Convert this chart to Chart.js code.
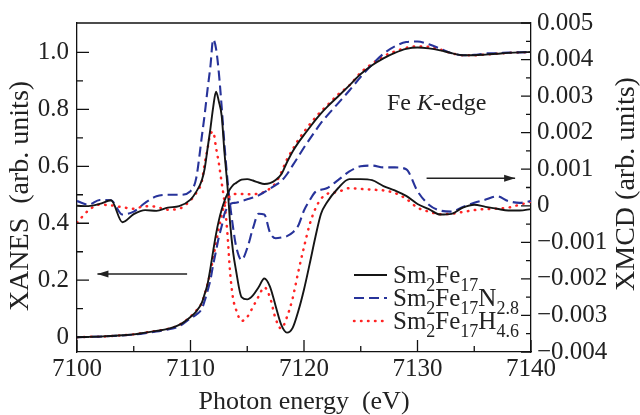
<!DOCTYPE html>
<html><head><meta charset="utf-8">
<script src="https://cdn.jsdelivr.net/npm/chart.js@4.4.1/dist/chart.umd.min.js"></script>
<style>html,body{margin:0;padding:0;background:#fff}canvas{display:block}</style>
</head><body>
<canvas id="c" width="640" height="415"></canvas>
<script>
// ---------- data ----------
const energy = [7100,7101,7102,7103,7104,7105,7106,7107,7108,7109,7110,
  7110.5,7111,
  7111.25,7111.5,7111.75,7112,7112.25,7112.5,7112.75,7113,7113.25,7113.5,7113.75,7114,
  7114.5,7115,7115.5,7116,7116.5,7117,7117.5,7118,7118.5,7119,7119.5,7120,7120.5,7121,7121.5,7122,
  7123,7124,7125,7126,7127,7128,7129,7130,7131,7132,7133,7134,7135,7136,7137,7138,7139,7140];

const xanesSm2Fe17 = [0.000,0.001,0.002,0.004,0.007,0.010,0.016,0.022,0.029,0.043,0.071,
  0.090,0.121,
  0.152,0.186,0.241,0.303,0.362,0.410,0.448,0.479,0.503,0.521,0.534,0.541,
  0.553,0.555,0.550,0.543,0.538,0.541,0.552,0.572,0.614,0.652,0.683,0.710,0.736,0.762,0.786,0.807,
  0.845,0.884,0.924,0.955,0.979,0.998,1.012,1.017,1.014,1.007,0.997,0.990,0.990,0.992,0.995,0.998,1.000,1.001];

const xanesSm2Fe17N = [0.000,0.001,0.002,0.004,0.006,0.009,0.014,0.020,0.027,0.038,0.066,
  0.079,0.100,
  0.128,0.162,0.200,0.255,0.303,0.352,0.390,0.434,0.455,0.467,0.471,0.472,
  0.478,0.484,0.490,0.498,0.509,0.521,0.534,0.548,0.572,0.603,0.634,0.666,0.695,0.724,0.752,0.776,
  0.821,0.866,0.914,0.957,0.995,1.021,1.036,1.038,1.028,1.013,0.997,0.990,0.991,0.996,0.997,0.999,1.000,1.001];

const xanesSm2Fe17H = [0.000,0.001,0.002,0.004,0.007,0.010,0.016,0.022,0.029,0.043,0.072,
  0.093,0.121,
  0.152,0.186,0.228,0.279,0.331,0.383,0.428,0.467,0.484,0.497,0.502,0.503,
  0.503,0.502,0.502,0.504,0.510,0.522,0.541,0.579,0.624,0.659,0.693,0.721,0.747,0.771,0.793,0.812,
  0.852,0.884,0.929,0.960,0.986,1.003,1.016,1.021,1.019,1.010,0.997,0.990,0.990,0.992,0.995,0.998,1.000,1.001];

const xmcdSm2Fe17 = [0.00000,-0.00001,0.00005,0.00015,-0.00045,-0.00023,-0.00012,-0.00014,-0.00005,-0.00001,0.00017,
  0.00038,0.00070,
  0.00102,0.00156,0.00210,0.00270,0.00312,0.00285,0.00245,0.00143,0.00057,-0.00051,-0.00126,-0.00175,
  -0.00250,-0.00256,-0.00245,-0.00223,-0.00199,-0.00221,-0.00274,-0.00326,-0.00347,-0.00334,-0.00288,-0.00229,-0.00159,-0.00086,-0.00022,0.00008,
  0.00048,0.00073,0.00073,0.00070,0.00054,0.00042,0.00027,0.00005,-0.00009,-0.00024,-0.00022,-0.00005,0.00003,-0.00003,-0.00008,-0.00013,-0.00013,-0.00009];

const xmcdSm2Fe17N = [0.00013,0.00003,0.00016,0.00015,-0.00024,-0.00016,0.00008,0.00026,0.00030,0.00030,0.00040,
  0.00075,0.00190,
  0.00250,0.00318,0.00380,0.00455,0.00430,0.00363,0.00269,0.00164,0.00073,0.00000,-0.00059,-0.00108,
  -0.00148,-0.00116,-0.00062,-0.00022,-0.00024,-0.00073,-0.00089,-0.00087,-0.00083,-0.00073,-0.00054,-0.00013,0.00015,0.00038,0.00044,0.00048,
  0.00070,0.00094,0.00108,0.00110,0.00105,0.00105,0.00100,0.00040,0.00003,-0.00013,-0.00016,-0.00003,0.00008,0.00017,0.00026,0.00013,0.00008,0.00013];

const xmcdSm2Fe17H = [-0.00046,-0.00013,0.00003,0.00001,-0.00004,-0.00008,-0.00001,-0.00003,-0.00011,-0.00008,0.00015,
  0.00035,0.00067,
  0.00116,0.00156,0.00196,0.00202,0.00159,0.00116,0.00062,0.00008,-0.00075,-0.00186,-0.00253,-0.00283,
  -0.00315,-0.00304,-0.00277,-0.00248,-0.00223,-0.00250,-0.00309,-0.00336,-0.00304,-0.00253,-0.00180,-0.00113,-0.00051,-0.00008,0.00019,0.00032,
  0.00038,0.00048,0.00046,0.00044,0.00042,0.00035,0.00019,-0.00005,-0.00016,-0.00023,-0.00022,-0.00017,-0.00012,-0.00009,-0.00008,-0.00005,0.00003,0.00011];

const xTickLabels = [7100,7110,7120,7130,7140];
const leftTickLabels = [0,0.2,0.4,0.6,0.8,1.0];
const rightTickLabels = [-0.004,-0.003,-0.002,-0.001,0,0.001,0.002,0.003,0.004,0.005];

// ---------- styling ----------
const FONT = "'Liberation Serif','Times New Roman',serif";
const BLACK = '#151515', BLUE = '#27339a', RED = '#ff2424';
const seriesStyle = [
  {label:'Sm2Fe17', color:BLACK, dash:[], width:1.9, cap:'butt'},
  {label:'Sm2Fe17N2.8', color:BLUE, dash:[10,5], width:2.1, cap:'butt'},
  {label:'Sm2Fe17H4.6', color:RED, dash:[0.5,6.5], width:2.5, cap:'round'}
];
function pts(ys){ return energy.map((e,i)=>({x:e,y:ys[i]})); }
function ds(ys, s, axis){
  return {data:pts(ys), yAxisID:axis, borderColor:s.color, borderWidth:s.width,
    borderDash:s.dash, borderCapStyle:s.cap, pointRadius:0, fill:false,
    cubicInterpolationMode:'monotone'};
}

const decor = {
  id:'decor',
  afterDraw(chart){
    const ctx = chart.ctx, a = chart.chartArea;
    const xs = chart.scales.x, yl = chart.scales.yL, yr = chart.scales.yR;
    ctx.save();
    ctx.strokeStyle = '#111'; ctx.lineWidth = 1.3; ctx.setLineDash([]);
    ctx.beginPath(); ctx.moveTo(a.left, a.top); ctx.lineTo(a.right, a.top); ctx.stroke();
    const mids = arr => arr.slice(1).map((v,i)=>(v+arr[i])/2);
    ctx.beginPath();
    xTickLabels.forEach(v=>{const p=xs.getPixelForValue(v); ctx.moveTo(p,a.bottom); ctx.lineTo(p,a.bottom-12);});
    mids(xTickLabels).forEach(v=>{const p=xs.getPixelForValue(v); ctx.moveTo(p,a.bottom); ctx.lineTo(p,a.bottom-6);});
    leftTickLabels.forEach(v=>{const p=yl.getPixelForValue(v); ctx.moveTo(a.left,p); ctx.lineTo(a.left+12,p);});
    mids(leftTickLabels).forEach(v=>{const p=yl.getPixelForValue(v); ctx.moveTo(a.left,p); ctx.lineTo(a.left+6,p);});
    rightTickLabels.forEach(v=>{const p=yr.getPixelForValue(v); ctx.moveTo(a.right,p); ctx.lineTo(a.right-10,p);});
    mids(rightTickLabels).forEach(v=>{const p=yr.getPixelForValue(v); ctx.moveTo(a.right,p); ctx.lineTo(a.right-5,p);});
    ctx.stroke();

    function arrow(x0,x1,y){
      ctx.strokeStyle='#222'; ctx.fillStyle='#222'; ctx.lineWidth=1.5;
      ctx.beginPath(); ctx.moveTo(x0,y); ctx.lineTo(x1,y); ctx.stroke();
      const d = Math.sign(x1-x0);
      ctx.beginPath(); ctx.moveTo(x1,y); ctx.lineTo(x1-d*11,y-3.5); ctx.lineTo(x1-d*11,y+3.5); ctx.closePath(); ctx.fill();
    }
    arrow(xs.getPixelForValue(7109.7), xs.getPixelForValue(7101.8), yl.getPixelForValue(0.222));
    arrow(xs.getPixelForValue(7130.8), xs.getPixelForValue(7138.6), yr.getPixelForValue(0.00075));

    ctx.fillStyle='#222'; ctx.textBaseline='alphabetic'; ctx.textAlign='left';
    let x = a.left + 310, y = a.top + 87;
    ctx.font = "24px "+FONT; ctx.fillText('Fe ', x, y); x += ctx.measureText('Fe ').width;
    ctx.font = "italic 24px "+FONT; ctx.fillText('K', x, y); x += ctx.measureText('K').width;
    ctx.font = "24px "+FONT; ctx.fillText('-edge', x, y);

    const legendParts = [
      [['Sm',0],['2',1],['Fe',0],['17',1]],
      [['Sm',0],['2',1],['Fe',0],['17',1],['N',0],['2.8',1]],
      [['Sm',0],['2',1],['Fe',0],['17',1],['H',0],['4.6',1]]
    ];
    legendParts.forEach((parts,i)=>{
      const s = seriesStyle[i];
      const base = a.top + 260 + i*23;
      ctx.strokeStyle = s.color; ctx.lineWidth = s.width; ctx.setLineDash(s.dash); ctx.lineCap = s.cap;
      ctx.beginPath(); ctx.moveTo(a.left+277, base-8); ctx.lineTo(a.left+310, base-8); ctx.stroke();
      ctx.setLineDash([]); ctx.lineCap='butt';
      let tx = a.left + 316;
      ctx.fillStyle = '#222';
      parts.forEach(([t,sub])=>{
        ctx.font = (sub? "18px ":"25px ") + FONT;
        ctx.fillText(t, tx, base + (sub? 8:0));
        tx += ctx.measureText(t).width;
      });
    });

    ctx.fillStyle = '#222'; ctx.textAlign='center'; ctx.textBaseline='middle';
    ctx.font = "28px "+FONT;
    ctx.save(); ctx.translate(21, 196); ctx.rotate(-Math.PI/2); ctx.fillText('XANES  (arb. units)', 0, 0); ctx.restore();
    ctx.save(); ctx.translate(627, 184); ctx.rotate(-Math.PI/2); ctx.fillText('XMCD (arb. units)', 0, 0); ctx.restore();
    ctx.font = "26px "+FONT; ctx.textBaseline='alphabetic';
    ctx.fillText('Photon energy  (eV)', (a.left+a.right)/2, 409);
    ctx.restore();
  }
};

const tickFont = {family:FONT, size:25};
new Chart(document.getElementById('c'), {
  type:'line',
  data:{datasets:[
    ds(xanesSm2Fe17, seriesStyle[0], 'yL'),
    ds(xanesSm2Fe17N, seriesStyle[1], 'yL'),
    ds(xanesSm2Fe17H, seriesStyle[2], 'yL'),
    ds(xmcdSm2Fe17, seriesStyle[0], 'yR'),
    ds(xmcdSm2Fe17N, seriesStyle[1], 'yR'),
    ds(xmcdSm2Fe17H, seriesStyle[2], 'yR')
  ]},
  options:{
    responsive:false, animation:false, devicePixelRatio:1,
    layout:{padding:{top:17, left:0, right:0, bottom:0}},
    plugins:{legend:{display:false}, tooltip:{enabled:false}, title:{display:false}},
    scales:{
      x:{type:'linear', min:7100, max:7140,
        grid:{display:false, drawTicks:false}, border:{display:true, color:'#111', width:1.3},
        afterBuildTicks: s => { s.ticks = xTickLabels.map(v=>({value:v})); },
        afterFit: s => { s.height = 63; },
        ticks:{font:tickFont, color:'#222', padding:2, maxRotation:0, callback:v=>String(v)}},
      yL:{type:'linear', position:'left', min:-0.052, max:1.103,
        grid:{display:false, drawTicks:false}, border:{display:true, color:'#111', width:1.3},
        afterBuildTicks: s => { s.ticks = leftTickLabels.map(v=>({value:v})); },
        afterFit: s => { s.width = 77; },
        ticks:{font:tickFont, color:'#222', padding:8, callback:v=> v===0 ? '0' : v.toFixed(1)}},
      yR:{type:'linear', position:'right', min:-0.004, max:0.005,
        grid:{display:false, drawTicks:false}, border:{display:true, color:'#111', width:1.3},
        afterBuildTicks: s => { s.ticks = rightTickLabels.map(v=>({value:v})); },
        afterFit: s => { s.width = 109; },
        ticks:{font:tickFont, color:'#222', padding:6,
          callback:v=> Math.abs(v)<1e-9 ? '0' : (v<0 ? '\u2212'+Math.abs(v).toFixed(3) : v.toFixed(3))}}
    }
  },
  plugins:[decor]
});
</script>
</body></html>
